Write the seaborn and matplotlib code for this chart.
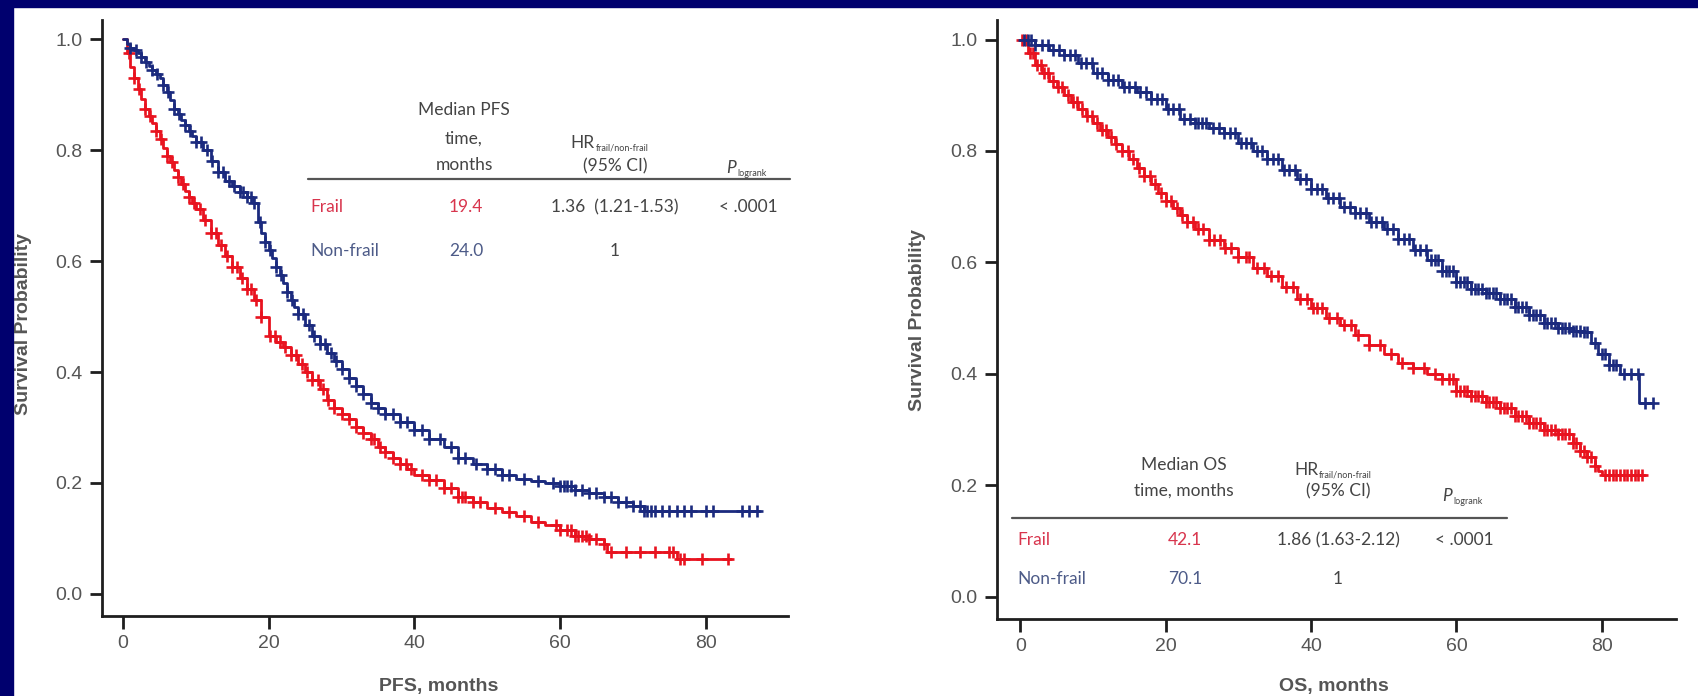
import numpy as np
import pandas as pd
import matplotlib
matplotlib.use("Agg")
import matplotlib.pyplot as plt
from matplotlib.patches import Rectangle
import seaborn as sns

# ---------------- data ----------------
pfs_frail_t = [0, 0.5, 1, 1.5, 2, 2.5, 3, 3.5, 4, 4.5, 5, 5.5, 6, 6.5, 7, 7.5, 8, 8.5, 9, 9.5, 10, 11, 12,
               13, 14, 15, 16, 17, 18, 19, 20, 21, 22, 23, 24, 25, 26, 27, 28, 29, 30, 31, 32, 33, 34, 35,
               36, 37, 38, 39, 40, 42, 44, 46, 48, 50, 52, 54, 56, 58, 60, 62, 64, 66, 66.5, 76, 83.5]
pfs_frail_s = [1.00, 0.975, 0.95, 0.93, 0.91, 0.893, 0.875, 0.862, 0.85, 0.835, 0.82, 0.805, 0.79, 0.778,
               0.765, 0.752, 0.74, 0.727, 0.715, 0.705, 0.695, 0.675, 0.65, 0.63, 0.61, 0.59, 0.57, 0.55,
               0.53, 0.50, 0.465, 0.455, 0.445, 0.43, 0.415, 0.40, 0.385, 0.37, 0.35, 0.335, 0.325,
               0.315, 0.30, 0.29, 0.28, 0.265, 0.255, 0.245, 0.235, 0.225, 0.215, 0.205, 0.19, 0.175,
               0.165, 0.155, 0.148, 0.14, 0.13, 0.125, 0.115, 0.105, 0.098, 0.09, 0.076, 0.062, 0.062]
pfs_frail_cens = [0.8, 1.5, 2.2, 3, 3.7, 4.5, 5.2, 6, 6.7, 7.5, 8.2, 9, 9.7, 10.5, 11.2, 12, 12.7, 13.5,
                  14.2, 15, 15.6, 16.3, 17, 17.5, 18.2, 19, 20.2, 20.8, 21.5, 22.2, 23, 23.7, 24.5, 25.2,
                  26, 26.7, 27.5, 28.2, 29, 30, 31, 32, 33, 34, 34.5, 35.3, 36, 37, 38, 38.8, 39.5, 41,
                  42, 43, 44, 45, 46, 46.5, 47, 48, 49, 51, 53, 55, 57, 59.5, 60, 61, 61.5, 62, 62.5, 63,
                  63.5, 64, 65, 66, 67, 69, 71, 73, 75, 75.5, 76.5, 77, 79.5, 83]

pfs_nonfrail_t = [0, 0.5, 1, 1.5, 2, 2.5, 3, 3.5, 4, 4.5, 5, 5.5, 6, 6.5, 7, 7.5, 8, 8.5, 9, 9.5, 10, 11,
                  12, 13, 14, 15, 16, 17, 17.8, 18.5, 19, 19.5, 20, 20.5, 21, 21.5, 22, 22.5, 23, 23.5,
                  24, 25, 26, 27, 28, 29, 30, 31, 32, 33, 34, 35, 36, 38, 40, 42, 44, 46, 48, 50, 52, 54,
                  56, 58, 60, 62, 64, 66, 68, 70, 71.5, 87.5]
pfs_nonfrail_s = [1.00, 0.992, 0.985, 0.98, 0.975, 0.968, 0.96, 0.952, 0.945, 0.938, 0.93, 0.918, 0.905,
                  0.89, 0.875, 0.865, 0.855, 0.845, 0.835, 0.825, 0.815, 0.80, 0.78, 0.76, 0.745, 0.735,
                  0.725, 0.715, 0.705, 0.67, 0.65, 0.635, 0.62, 0.605, 0.59, 0.575, 0.56, 0.545, 0.53,
                  0.517, 0.505, 0.485, 0.465, 0.45, 0.435, 0.42, 0.405, 0.39, 0.375, 0.36, 0.345, 0.335,
                  0.325, 0.31, 0.295, 0.28, 0.265, 0.245, 0.235, 0.225, 0.215, 0.208, 0.203, 0.20,
                  0.195, 0.188, 0.182, 0.175, 0.165, 0.158, 0.15, 0.15]
pfs_nonfrail_cens = [1, 1.8, 2.5, 3.2, 4, 4.7, 5.5, 6.2, 7, 7.7, 8.5, 9.2, 10, 10.7, 11.5, 12.2, 13, 13.7,
                     14.5, 15.2, 16, 16.5, 17, 17.5, 18, 18.8, 19.5, 20.2, 21, 21.7, 22.5, 23.2, 24, 24.7,
                     25.5, 26.2, 27, 27.7, 28.5, 29.2, 30, 31, 32, 33, 34, 35, 36, 37, 38, 39, 40, 41, 42,
                     43.5, 45, 46, 47, 48.5, 50, 51, 52, 53, 55, 57, 59, 60, 60.5, 61, 61.5, 62, 63, 64,
                     65, 66, 67, 68, 69, 70, 71, 71.5, 72, 72.5, 73, 74, 75, 76, 77, 78, 80, 81, 85, 86,
                     87]

os_frail_t = [0, 1, 2, 3, 4, 5, 6, 7, 8, 9, 10, 11, 12, 13, 14, 15, 16, 17, 18, 19, 20, 21, 22, 23, 24, 26,
              28, 30, 32, 34, 36, 38, 40, 42, 44, 46, 48, 50, 52, 54, 56, 58, 60, 62, 64, 66, 68, 70, 72,
              74, 76, 77, 78, 79, 79.5, 80, 86]
os_frail_s = [1.0, 0.975, 0.955, 0.94, 0.925, 0.915, 0.90, 0.888, 0.875, 0.862, 0.85, 0.838, 0.825, 0.812,
              0.80, 0.785, 0.77, 0.755, 0.74, 0.725, 0.71, 0.697, 0.685, 0.672, 0.66, 0.64, 0.625, 0.61,
              0.59, 0.575, 0.555, 0.535, 0.518, 0.50, 0.488, 0.47, 0.452, 0.435, 0.42, 0.41, 0.40, 0.39,
              0.37, 0.36, 0.35, 0.338, 0.325, 0.312, 0.30, 0.292, 0.275, 0.262, 0.25, 0.235, 0.225,
              0.218, 0.218]
os_frail_cens = [0.3, 0.8, 1.3, 1.8, 2.3, 2.8, 3.3, 3.8, 4.5, 5.2, 5.8, 6.5, 7.2, 7.8, 8.5, 9.2, 9.8, 10.5,
                 11.2, 11.8, 12.5, 13.2, 14, 14.8, 15.5, 16.3, 17, 17.8, 18.5, 19.3, 20, 20.7, 21.5, 22.2,
                 23, 23.7, 24.5, 25.2, 26, 26.7, 27.5, 28.2, 29, 30, 31, 31.5, 32.5, 33.5, 34.5, 35.5,
                 36.5, 37.5, 38.5, 39.5, 40.2, 40.8, 41.5, 42.5, 43.5, 44.5, 45.5, 46.5, 48, 49.5, 51,
                 52.5, 54, 55.5, 57, 58, 59, 59.5, 60, 60.5, 61, 61.5, 62, 62.5, 63, 63.5, 64, 64.5, 65,
                 65.5, 66, 66.5, 67, 67.5, 68, 68.5, 69, 69.5, 70, 70.5, 71, 71.5, 72, 72.5, 73, 73.5, 74,
                 74.5, 75, 75.5, 76, 76.5, 77, 77.5, 78, 78.5, 79, 80.5, 81, 81.5, 82, 82.5, 83, 83.5, 84,
                 84.5, 85, 85.5]

os_nonfrail_t = [0, 2, 4, 6, 8, 10, 12, 14, 16, 18, 20, 22, 24, 26, 28, 30, 32, 34, 36, 38, 40, 42, 44, 46,
                 48, 50, 52, 54, 56, 58, 60, 62, 64, 66, 68, 70, 72, 74, 76, 77.5, 78.5, 79.5, 81, 82.5,
                 85, 85.1, 86.9]
os_nonfrail_s = [1.0, 0.99, 0.982, 0.972, 0.958, 0.94, 0.928, 0.915, 0.905, 0.893, 0.875, 0.858, 0.85,
                 0.842, 0.832, 0.815, 0.80, 0.785, 0.765, 0.75, 0.732, 0.715, 0.70, 0.688, 0.673, 0.66,
                 0.642, 0.622, 0.605, 0.585, 0.565, 0.553, 0.545, 0.535, 0.52, 0.505, 0.492, 0.482, 0.476,
                 0.475, 0.455, 0.435, 0.415, 0.40, 0.40, 0.347, 0.347]
os_nonfrail_cens = [0.5, 1, 1.5, 2, 3, 3.8, 4.5, 5.3, 6, 6.8, 7.5, 8.3, 9, 9.8, 10.5, 11.3, 12, 12.8, 13.5,
                    14.3, 15, 15.8, 16.5, 17.3, 18, 18.8, 19.5, 20.3, 21, 21.8, 22.5, 23.3, 24, 24.5, 25,
                    25.5, 26.5, 27.3, 28, 28.8, 29.5, 30.3, 31, 31.8, 32.5, 33.3, 34, 34.8, 35.5, 36.3, 37,
                    37.8, 38.5, 39.3, 40, 40.8, 41.5, 42.3, 43, 43.8, 44.5, 45.3, 46, 46.8, 47.5, 48.3, 49,
                    49.8, 50.5, 51.3, 52, 52.8, 53.5, 54.3, 55, 55.8, 56.5, 57, 57.5, 58, 58.5, 59, 59.5, 60,
                    60.5, 61, 61.5, 62, 62.5, 63, 63.5, 64, 64.5, 65, 65.5, 66, 66.5, 67, 67.5, 68, 68.5,
                    69, 69.5, 70, 70.5, 71, 71.5, 72, 72.5, 73, 73.5, 74, 74.5, 75, 75.5, 76, 76.5, 77,
                    77.5, 78, 79, 80, 80.5, 81, 81.5, 82, 83, 84, 85, 86, 87]

groups = ["Frail", "Non-frail"]
pfs_median = ["19.4", "24.0"]
os_median = ["42.1", "70.1"]
pfs_hr = ["1.36  (1.21-1.53)", "1"]
os_hr = ["1.86 (1.63-2.12)", "1"]
p_logrank = ["< .0001", ""]
x_ticks = [0, 20, 40, 60, 80]
y_ticks = [0.0, 0.2, 0.4, 0.6, 0.8, 1.0]

# ---------------- style ----------------
RED = "#e8131f"
BLUE = "#1b2a7e"
TXT_RED = "#d8354d"
TXT_BLUE = "#4d5b88"
GRAY = "#555555"
NAVY = "#00006e"

sns.set_theme(style="ticks")
plt.rcParams["font.family"] = ["Liberation Sans Narrow", "Liberation Sans", "DejaVu Sans"]

W, H = 1698, 696
fig = plt.figure(figsize=(W / 100, H / 100), dpi=100, facecolor="white")


def fx(px):
    return px / W


def fy(py):
    return 1 - py / H


# navy frame pieces
fig.patches.append(Rectangle((0, fy(7)), 1, 7 / H, transform=fig.transFigure, color=NAVY, zorder=0))
fig.patches.append(Rectangle((0, 0), 13 / W, 1, transform=fig.transFigure, color=NAVY, zorder=0))

axL = fig.add_axes([fx(102), fy(616), fx(788) - fx(102), fy(20) - fy(616)])
axR = fig.add_axes([fx(997), fy(619), fx(1676) - fx(997), fy(20) - fy(619)])


def step_val(t, s, c):
    t = np.asarray(t)
    idx = np.searchsorted(t, np.asarray(c), side="right") - 1
    return np.asarray(s)[idx]


def km(ax, t, s, cens, color):
    df = pd.DataFrame({"t": t, "s": s})
    sns.lineplot(data=df, x="t", y="s", drawstyle="steps-post", color=color, lw=2.0,
                 ax=ax, estimator=None, sort=False)
    cdf = pd.DataFrame({"t": cens, "s": step_val(t, s, cens)})
    sns.scatterplot(data=cdf, x="t", y="s", marker="+", s=85, linewidth=1.9, color=color, ax=ax,
                    zorder=3)


km(axL, pfs_frail_t, pfs_frail_s, pfs_frail_cens, RED)
km(axL, pfs_nonfrail_t, pfs_nonfrail_s, pfs_nonfrail_cens, BLUE)
km(axR, os_frail_t, os_frail_s, os_frail_cens, RED)
km(axR, os_nonfrail_t, os_nonfrail_s, os_nonfrail_cens, BLUE)

for ax, xl, xmax, xmin in [(axL, "PFS, months", 91.3, -2.9), (axR, "OS, months", 90.2, -3.2)]:
    ax.set_xlim(xmin, xmax)
    ax.set_ylim(-0.04, 1.035)
    ax.set_xticks(x_ticks)
    ax.set_yticks(y_ticks)
    ax.set_yticklabels([f"{v:.1f}" for v in y_ticks])
    sns.despine(ax=ax)
    for sp in ("left", "bottom"):
        ax.spines[sp].set_linewidth(2.0)
        ax.spines[sp].set_color("#1e1e1e")
    ax.tick_params(direction="out", length=9, width=2, color="#1e1e1e", labelcolor=GRAY,
                   labelsize=14, pad=5)
    ax.set_xlabel("")
    ax.set_ylabel("")
    ax.set_facecolor("white")

# axis labels
lab_kw = dict(fontsize=14, fontweight="bold", color=GRAY, family=["Liberation Sans", "DejaVu Sans"])
fig.text(fx(24), fy(324), "Survival Probability", rotation=90, ha="center", va="center", **lab_kw)
fig.text(fx(918), fy(320), "Survival Probability", rotation=90, ha="center", va="center", **lab_kw)
fig.text(fx(439), fy(686), "PFS, months", ha="center", va="center", **lab_kw)
fig.text(fx(1334), fy(686), "OS, months", ha="center", va="center", **lab_kw)

# ---------------- tables ----------------
TF = ["Lato", "DejaVu Sans"]
HC = "#444444"


def t(x, y, s, color=HC, size=12.5, ha="center", **kw):
    fig.text(fx(x), fy(y), s, ha=ha, va="center", color=color, fontsize=size, family=TF, **kw)


def hr_head(xc, y):
    # "HR" with small subscript
    t(xc - 20, y, "HR", ha="right")
    t(xc - 19, y + 5, "frail/non-frail", size=6.5, ha="left")


def p_head(xc, y):
    t(xc - 12, y, "P", ha="right", style="italic")
    t(xc - 11, y + 5, "logrank", size=6.5, ha="left")


# left (PFS) table
t(464, 110, "Median PFS")
t(464, 139, "time,")
t(464, 165, "months")
hr_head(615, 143)
t(615, 166, "(95% CI)")
p_head(748, 168)
fig.add_artist(plt.Line2D([fx(308), fx(790)], [fy(179), fy(179)], transform=fig.transFigure,
                          color="#555555", lw=1.6))
t(310, 207, groups[0], color=TXT_RED, ha="left")
t(310, 251, groups[1], color=TXT_BLUE, ha="left")
t(466, 207, pfs_median[0], color=TXT_RED)
t(466, 251, pfs_median[1], color=TXT_BLUE)
t(615, 207, pfs_hr[0])
t(615, 251, pfs_hr[1])
t(748, 207, p_logrank[0])

# right (OS) table
t(1184, 465, "Median OS")
t(1184, 491, "time, months")
hr_head(1338, 470)
t(1338, 491, "(95% CI)")
p_head(1464, 496)
fig.add_artist(plt.Line2D([fx(1012), fx(1507)], [fy(518), fy(518)], transform=fig.transFigure,
                          color="#555555", lw=1.6))
t(1017, 540, groups[0], color=TXT_RED, ha="left")
t(1017, 579, groups[1], color=TXT_BLUE, ha="left")
t(1185, 540, os_median[0], color=TXT_RED)
t(1185, 579, os_median[1], color=TXT_BLUE)
t(1338, 540, os_hr[0])
t(1338, 579, os_hr[1])
t(1464, 540, p_logrank[0])

fig.savefig("out.png", dpi=100, facecolor="white")
